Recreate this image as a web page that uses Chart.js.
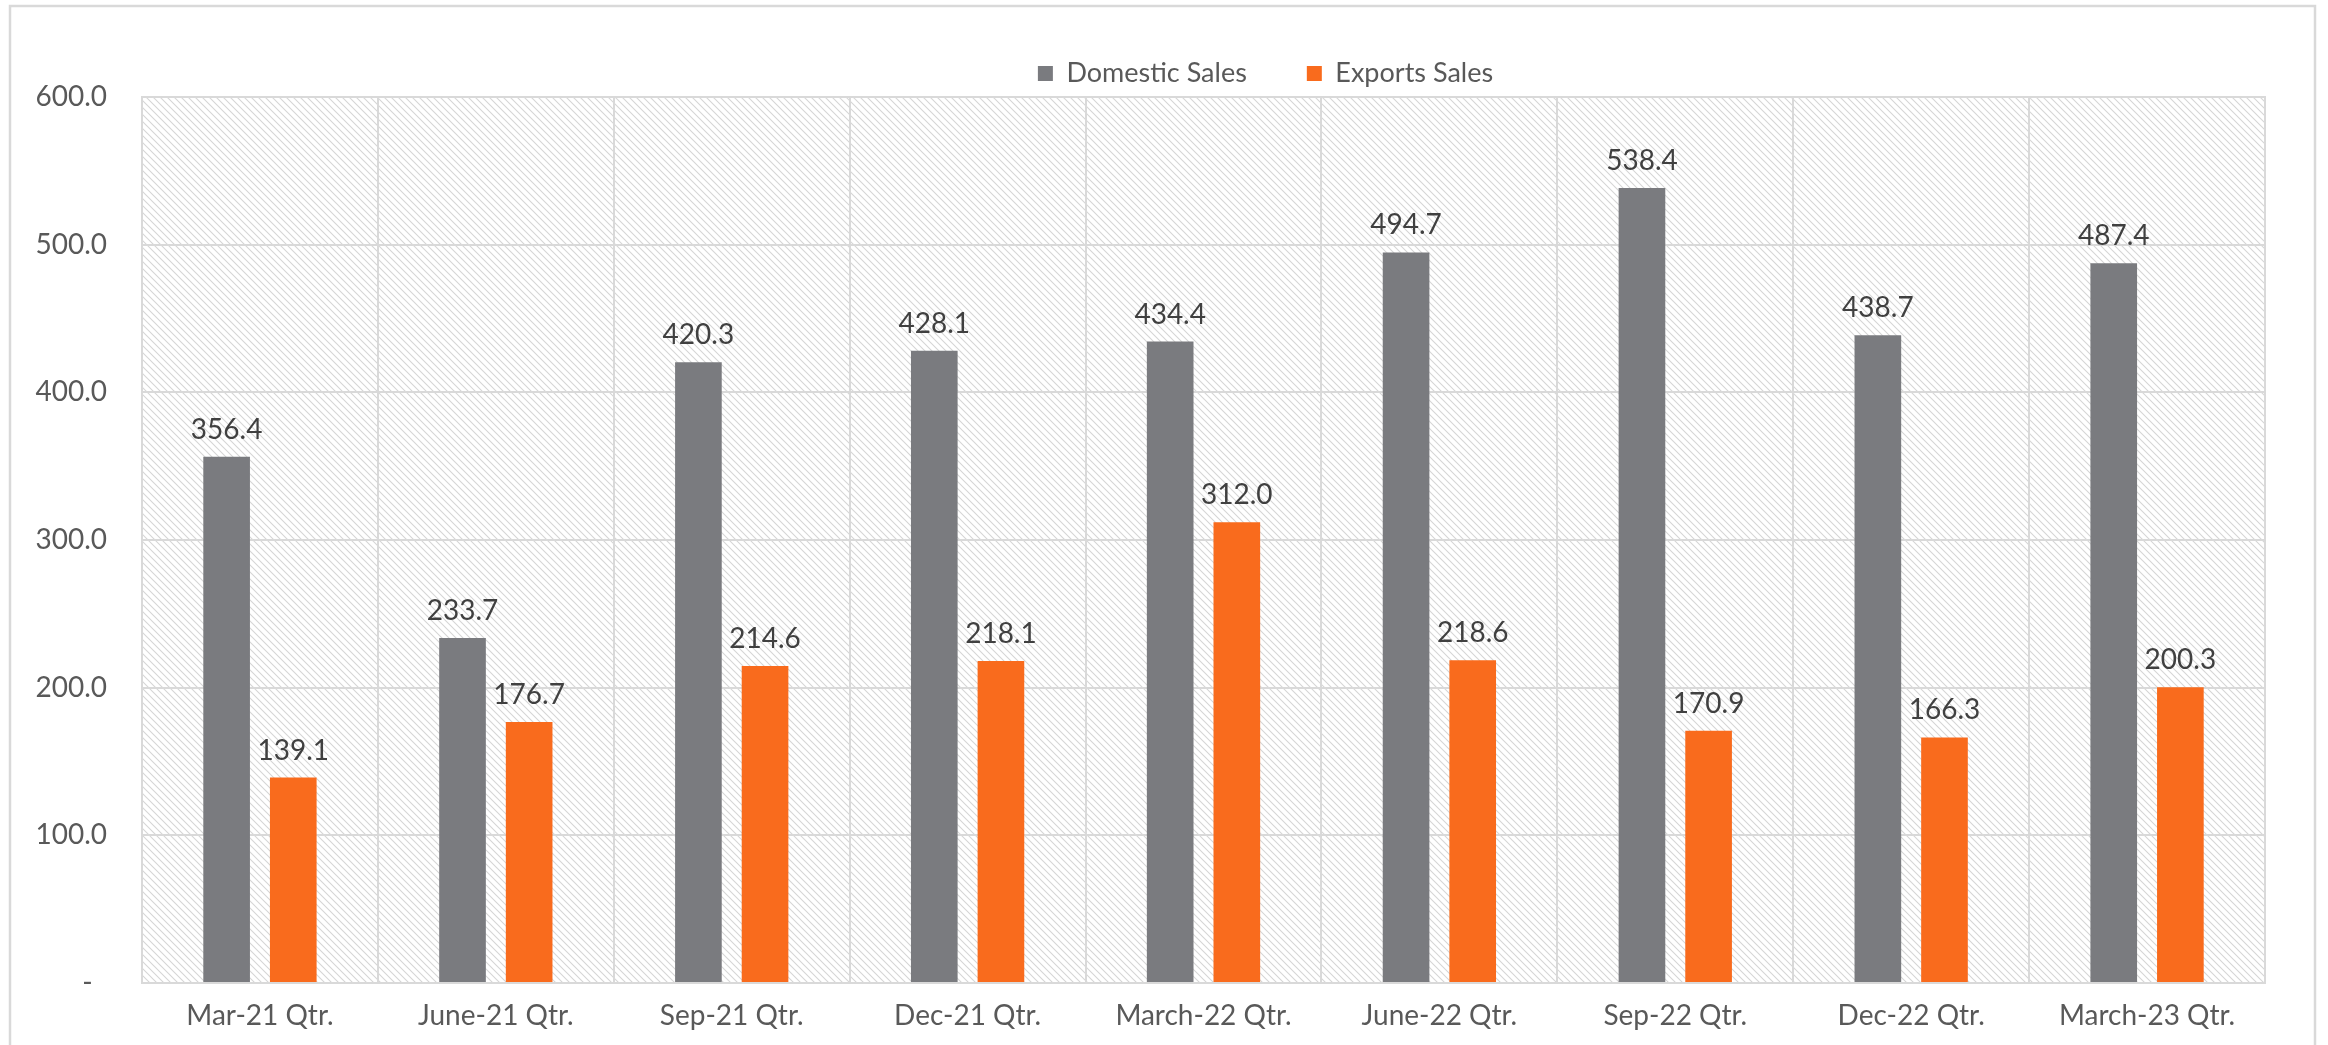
<!DOCTYPE html>
<html lang="en">

<head>
    <meta charset="UTF-8" />
    <title>Domestic vs Exports Sales</title>
    <script src="https://cdn.jsdelivr.net/npm/chart.js"></script>
    <style>
        html, body { margin: 0; padding: 0; background: #fff; overflow: hidden; }
        #wrap { width: 2328px; height: 1045px; position: relative; }
    </style>
</head>

<body>
    <div id="wrap"><canvas id="salesChart" width="2328" height="1045"></canvas></div>

    <script>
        // data
        const quarters = ['Mar-21 Qtr.', 'June-21 Qtr.', 'Sep-21 Qtr.', 'Dec-21 Qtr.', 'March-22 Qtr.',
            'June-22 Qtr.', 'Sep-22 Qtr.', 'Dec-22 Qtr.', 'March-23 Qtr.'];
        const domesticSales = [356.4, 233.7, 420.3, 428.1, 434.4, 494.7, 538.4, 438.7, 487.4];
        const exportsSales = [139.1, 176.7, 214.6, 218.1, 312.0, 218.6, 170.9, 166.3, 200.3];
        const yMin = 0, yMax = 600, yStep = 100;

        const FONT = 'Lato, "Open Sans", sans-serif';
        const TEXT = '#595959';
        const GRID = '#d9d9d9';

        // diagonal hatch used behind the plot
        function hatchPattern(ctx) {
            const s = 7;
            const c = document.createElement('canvas');
            c.width = s; c.height = s;
            const p = c.getContext('2d');
            p.fillStyle = '#fff';
            p.fillRect(0, 0, s, s);
            p.strokeStyle = '#d6d6d6';
            p.lineWidth = 1.1;
            p.beginPath();
            p.moveTo(-1, -1); p.lineTo(s + 1, s + 1);
            p.moveTo(-1, s - 1); p.lineTo(1, s + 1);
            p.moveTo(s - 1, -1); p.lineTo(s + 1, 1);
            p.stroke();
            return ctx.createPattern(c, 'repeat');
        }

        const backdrop = {
            id: 'backdrop',
            afterInit(chart) {
                // fix legend height so the plot starts where the reference does
                const lg = chart.legend;
                const fit = lg.fit;
                lg.fit = function () { fit.call(this); this.height = 97; };
                // the reference legend sits a little right of centre
                const draw = lg.draw;
                lg.draw = function () {
                    const ctx = this.ctx;
                    ctx.save();
                    ctx.translate(133, 0);
                    draw.call(this);
                    ctx.restore();
                };
            },
            beforeDraw(chart) {
                const { ctx, chartArea: a } = chart;
                ctx.save();
                ctx.fillStyle = '#fff';
                ctx.fillRect(0, 0, chart.width, chart.height);
                ctx.strokeStyle = GRID;
                ctx.lineWidth = 2.5;
                ctx.strokeRect(10, 6, 2305, 1100);
                ctx.fillStyle = hatchPattern(ctx);
                ctx.fillRect(a.left, a.top, a.right - a.left, a.bottom - a.top);
                ctx.restore();
            },
            afterDraw(chart) {
                const { ctx, chartArea: a } = chart;
                ctx.save();
                ctx.strokeStyle = GRID;
                ctx.lineWidth = 2;
                ctx.strokeRect(a.left, a.top, a.right - a.left, a.bottom - a.top);
                ctx.restore();
            },
            afterDatasetsDraw(chart) {
                // value labels above each bar
                const { ctx } = chart;
                ctx.save();
                ctx.font = '28px ' + FONT;
                ctx.fillStyle = '#404040';
                ctx.textAlign = 'center';
                ctx.textBaseline = 'alphabetic';
                chart.data.datasets.forEach((ds, i) => {
                    chart.getDatasetMeta(i).data.forEach((bar, j) => {
                        ctx.fillText(ds.data[j].toFixed(1), bar.x, bar.y - 18);
                    });
                });
                ctx.restore();
            }
        };

        new Chart(document.getElementById('salesChart'), {
            type: 'bar',
            data: {
                labels: quarters,
                datasets: [{
                    label: 'Domestic Sales',
                    data: domesticSales,
                    backgroundColor: '#7a7b7f',
                    categoryPercentage: 0.565,
                    barPercentage: 0.7
                }, {
                    label: 'Exports Sales',
                    data: exportsSales,
                    backgroundColor: '#f96b1d',
                    categoryPercentage: 0.565,
                    barPercentage: 0.7
                }]
            },
            options: {
                responsive: false,
                animation: false,
                devicePixelRatio: 1,
                layout: { padding: { left: 0, right: 63, top: 0, bottom: 0 } },
                plugins: {
                    legend: {
                        position: 'top',
                        labels: {
                            font: { family: FONT, size: 27 },
                            color: TEXT,
                            boxWidth: 15,
                            boxHeight: 15,
                            padding: 60
                        }
                    },
                    tooltip: { enabled: false }
                },
                scales: {
                    x: {
                        grid: { color: GRID, lineWidth: 2, drawTicks: false, offset: true },
                        border: { color: GRID, width: 2 },
                        ticks: { font: { family: FONT, size: 28 }, color: TEXT, padding: 16, maxRotation: 0 },
                        afterFit(scale) { scale.height = 62; }
                    },
                    y: {
                        min: yMin,
                        max: yMax,
                        grid: { color: GRID, lineWidth: 2, drawTicks: false },
                        border: { color: GRID, width: 2 },
                        ticks: {
                            stepSize: yStep,
                            font: { family: FONT, size: 28 },
                            color: TEXT,
                            padding: 35,
                            callback: v => v === 0 ? '-\u00a0\u00a0' : v.toFixed(1)
                        },
                        afterFit(scale) { scale.width = 142; }
                    }
                }
            },
            plugins: [backdrop]
        });
    </script>
</body>

</html>
